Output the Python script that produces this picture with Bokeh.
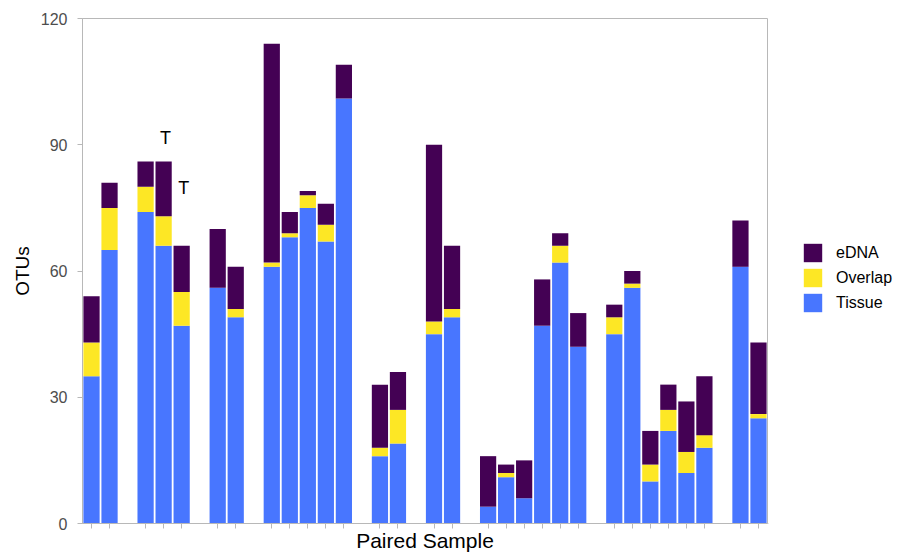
from bokeh.plotting import figure
from bokeh.layouts import row
from bokeh.models import Range1d, FixedTicker, Legend, LegendItem, ColumnDataSource
from bokeh.embed import file_html
from bokeh.resources import INLINE
from bokeh.core.properties import value

# ---- data ----
group_sizes = [2, 3, 2, 5, 2, 2, 6, 6, 2]
tissue  = [35, 65, 74, 66, 47, 56, 49, 61, 68, 75, 67, 101, 16, 19, 45, 49, 4, 11, 6, 47, 62, 42, 45, 56, 10, 22, 12, 18, 61, 25]
overlap = [8, 10, 6, 7, 8, 0, 2, 1, 1, 3, 4, 0, 2, 8, 3, 2, 0, 1, 0, 0, 4, 0, 4, 1, 4, 5, 5, 3, 0, 1]
edna    = [11, 6, 6, 13, 11, 14, 10, 52, 5, 1, 5, 8, 15, 9, 42, 15, 12, 2, 9, 11, 3, 8, 3, 3, 8, 6, 12, 14, 11, 17]
series_names = ["eDNA", "Overlap", "Tissue"]
y_ticks = [0, 30, 60, 90, 120]
annot_text = ["T", "T"]
annot_bar = [3, 4]
annot_y = [91.5, 79.7]

# sample slot positions: samples in order, one empty slot between groups
xs = []
slot = 0
for g in group_sizes:
    for i in range(g):
        xs.append(slot)
        slot += 1
    slot += 1

C_TISSUE = "#4876FF"
C_OVERLAP = "#FDE725"
C_EDNA = "#440154"
FONT = "Liberation Sans"

src = ColumnDataSource(dict(x=xs, tissue=tissue, overlap=overlap, edna=edna))

p = figure(width=768, height=554,
           x_range=Range1d(xs[0] - 0.5, xs[-1] + 0.5), y_range=Range1d(0, 120),
           output_backend="svg", toolbar_location=None,
           min_border_left=82, min_border_right=1, min_border_top=18, min_border_bottom=30)

rs = p.vbar_stack(["tissue", "overlap", "edna"], x="x", width=0.9, source=src,
                  fill_color=[C_TISSUE, C_OVERLAP, C_EDNA], line_color=None)

p.text(x=[xs[i] for i in annot_bar], y=annot_y, text=annot_text,
       text_font=value(FONT), text_font_size="18px", text_color="black",
       text_align="center", text_baseline="middle", x_offset=2)

p.xgrid.visible = False
p.ygrid.visible = False
p.outline_line_color = "#b8b8b8"
p.background_fill_color = "white"
p.border_fill_color = "white"

# y axis
ya = p.yaxis[0]
ya.ticker = FixedTicker(ticks=y_ticks)
ya.minor_tick_line_color = None
ya.major_tick_in = 0
ya.major_tick_out = 5
ya.major_tick_line_color = "#b8b8b8"
ya.axis_line_color = "#b8b8b8"
ya.major_label_text_font = FONT
ya.major_label_text_font_size = "16px"
ya.major_label_text_color = "#4d4d4d"
ya.major_label_standoff = 10
ya.axis_label = "OTUs"
ya.axis_label_text_font = FONT
ya.axis_label_text_font_size = "19px"
ya.axis_label_text_font_style = "normal"
ya.axis_label_text_color = "black"
ya.axis_label_standoff = 5

# x axis
xa = p.xaxis[0]
xa.ticker = FixedTicker(ticks=xs)
xa.minor_tick_line_color = None
xa.major_tick_in = 0
xa.major_tick_out = 5
xa.major_tick_line_color = "#b8b8b8"
xa.axis_line_color = "#b8b8b8"
xa.major_label_overrides = {x: "" for x in xs}
xa.major_label_text_font_size = "1px"
xa.major_label_standoff = 0
xa.axis_label = "Paired Sample"
xa.axis_label_text_font = FONT
xa.axis_label_text_font_size = "21px"
xa.axis_label_text_font_style = "normal"
xa.axis_label_text_color = "black"
xa.axis_label_standoff = 0

# ---- legend panel (separate canvas to the right of the plot) ----
pl = figure(width=143, height=554, x_range=Range1d(0, 1), y_range=Range1d(0, 1),
            output_backend="svg", toolbar_location=None,
            x_axis_location=None, y_axis_location=None, min_border=0)
pl.xgrid.visible = False
pl.ygrid.visible = False
pl.outline_line_color = None
pl.border_fill_color = "white"
leg_colors = {"eDNA": C_EDNA, "Overlap": C_OVERLAP, "Tissue": C_TISSUE}
items = []
for name in series_names:
    # placeholder renderer lying outside the visible range: only its legend swatch shows
    r = pl.vbar(x=[-5], top=[-5], bottom=[-6], width=0.9, fill_color=leg_colors[name], line_color=None)
    items.append(LegendItem(label=name, renderers=[r]))

legend = Legend(items=items, location=(33, 209), orientation="vertical",
                glyph_width=23, glyph_height=23, spacing=2, padding=0, margin=0,
                label_standoff=12, label_text_font=FONT, label_text_font_size="16px",
                label_text_color="black", border_line_color=None,
                background_fill_alpha=0)
pl.add_layout(legend, "center")

layout = row(p, pl)
open("out.html", "w").write(file_html(layout, INLINE))
